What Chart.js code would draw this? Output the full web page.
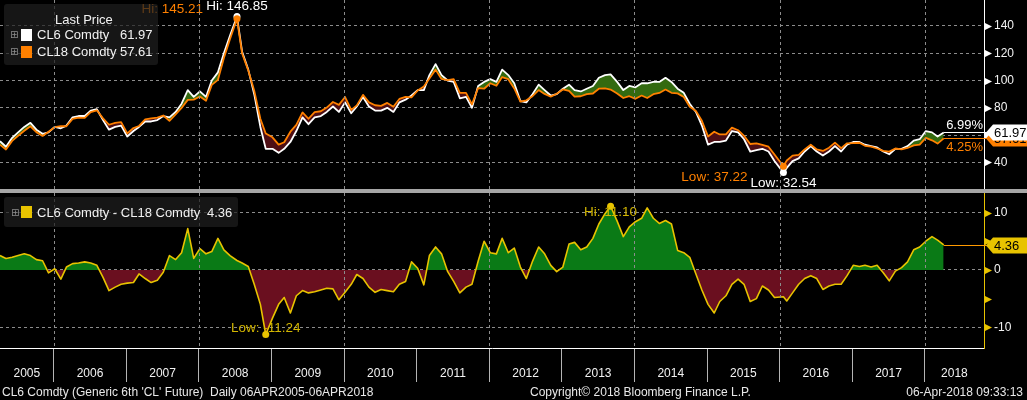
<!DOCTYPE html>
<html lang="en">
<head>
<meta charset="utf-8">
<title>CL6 vs CL18 Comdty</title>
<script src="https://cdn.jsdelivr.net/npm/chart.js@4.4.1/dist/chart.umd.min.js"></script>
<style>
  html, body { margin: 0; padding: 0; background: #000; }
  body { position: relative; width: 1027px; height: 400px; overflow: hidden; font-family: 'Liberation Sans', Arial, sans-serif; color: #f2f2f2; }
  .pane { position: absolute; left: 0; width: 1027px; }
  #topPane { top: 0; height: 190px; }
  #botPane { top: 193px; height: 207px; }
  #sep { position: absolute; left: 0; top: 189px; width: 1027px; height: 4px; background: #a6a6a6; }
  #gridLayer { position: absolute; left: 0; top: 0; width: 1027px; height: 400px; pointer-events: none; z-index: 2; }
  .vgrid { position: absolute; width: 1px; background: repeating-linear-gradient(to bottom, #8c8c8c 0, #8c8c8c 3px, rgba(0,0,0,0) 3px, rgba(0,0,0,0) 6px); }
  .legend { position: absolute; z-index: 3; background: rgba(30, 30, 30, 0.72); border-radius: 3px; font-size: 13px; line-height: 15px; }
  .legend span { position: absolute; white-space: nowrap; }
  .legend .plus { font-family: 'DejaVu Sans', sans-serif; font-size: 10px; line-height: 12px; color: #8c8c8c; }
  .legend .sw { width: 11px; height: 12px; }
  .foot { position: absolute; top: 384px; font-size: 12px; line-height: 16px; white-space: nowrap; color: #e8e8e8; }
</style>
</head>
<body>
<div class="pane" id="topPane"><canvas id="topChart"></canvas></div>
<div id="sep"></div>
<div class="pane" id="botPane"><canvas id="spreadChart"></canvas></div>
<div id="gridLayer"></div>

<div class="legend" style="left:4px;top:4px;width:154px;height:61px;">
  <span style="left:51px;top:8px;">Last Price</span>
  <span class="plus" style="left:6px;top:25px;">&#8862;</span>
  <span class="sw" style="left:17px;top:25px;background:#ffffff;"></span>
  <span style="left:33px;top:23px;">CL6 Comdty</span>
  <span id="legCl6" style="left:116px;top:23px;"></span>
  <span class="plus" style="left:6px;top:42px;">&#8862;</span>
  <span class="sw" style="left:17px;top:42px;background:#ff8000;"></span>
  <span style="left:33px;top:40px;">CL18 Comdty</span>
  <span id="legCl18" style="left:116px;top:40px;"></span>
</div>

<div class="legend" style="left:4px;top:197px;width:234px;height:30px;">
  <span class="plus" style="left:7px;top:10px;">&#8862;</span>
  <span class="sw" style="left:17px;top:9px;background:#e8c300;"></span>
  <span style="left:33px;top:8px;">CL6 Comdty - CL18 Comdty</span>
  <span id="legSpread" style="left:203px;top:8px;"></span>
</div>

<div class="foot" style="left:2px;">CL6 Comdty (Generic 6th 'CL' Future)&nbsp;&nbsp;Daily 06APR2005-06APR2018</div>
<div class="foot" style="left:530px;">Copyright&copy; 2018 Bloomberg Finance L.P.</div>
<div class="foot" style="right:4px;">06-Apr-2018 09:33:13</div>

<script>
// observation dates (roughly monthly, a few moved onto the highs / lows)
const dates = [
  '2005-04-06', '2005-05-06', '2005-06-06', '2005-07-06', '2005-08-06', '2005-09-06', '2005-10-06', '2005-11-06', '2005-12-06',
  '2006-01-06', '2006-02-06', '2006-03-06', '2006-04-06', '2006-05-06', '2006-06-06', '2006-07-06', '2006-08-06', '2006-09-06', '2006-10-06', '2006-11-06', '2006-12-06',
  '2007-01-06', '2007-02-06', '2007-03-06', '2007-04-06', '2007-05-06', '2007-06-06', '2007-07-06', '2007-08-06', '2007-09-06', '2007-10-06', '2007-11-06', '2007-12-06',
  '2008-01-06', '2008-02-06', '2008-03-06', '2008-04-06', '2008-05-06', '2008-06-06', '2008-07-11', '2008-08-06', '2008-09-06', '2008-10-06', '2008-11-06', '2008-12-03',
  '2009-01-06', '2009-02-06', '2009-03-06', '2009-04-06', '2009-05-06', '2009-06-06', '2009-07-06', '2009-08-06', '2009-09-06', '2009-10-06', '2009-11-06', '2009-12-06',
  '2010-01-06', '2010-02-06', '2010-03-06', '2010-04-06', '2010-05-06', '2010-06-06', '2010-07-06', '2010-08-06', '2010-09-06', '2010-10-06', '2010-11-06', '2010-12-06',
  '2011-01-06', '2011-02-06', '2011-03-06', '2011-04-06', '2011-05-06', '2011-06-06', '2011-07-06', '2011-08-06', '2011-09-06', '2011-10-06', '2011-11-06', '2011-12-06',
  '2012-01-06', '2012-02-06', '2012-03-06', '2012-04-06', '2012-05-06', '2012-06-06', '2012-07-06', '2012-08-06', '2012-09-06', '2012-10-06', '2012-11-06', '2012-12-06',
  '2013-01-06', '2013-02-06', '2013-03-06', '2013-04-06', '2013-05-06', '2013-06-06', '2013-07-06', '2013-08-06', '2013-09-03', '2013-10-06', '2013-11-06', '2013-12-06',
  '2014-01-06', '2014-02-06', '2014-03-06', '2014-04-06', '2014-05-06', '2014-06-06', '2014-07-06', '2014-08-06', '2014-09-06', '2014-10-06', '2014-11-06', '2014-12-06',
  '2015-01-06', '2015-02-06', '2015-03-06', '2015-04-06', '2015-05-06', '2015-06-06', '2015-07-06', '2015-08-06', '2015-09-06', '2015-10-06', '2015-11-06', '2015-12-06',
  '2016-01-20', '2016-02-06', '2016-03-06', '2016-04-06', '2016-05-06', '2016-06-06', '2016-07-06', '2016-08-06', '2016-09-06', '2016-10-06', '2016-11-06', '2016-12-06',
  '2017-01-06', '2017-02-06', '2017-03-06', '2017-04-06', '2017-05-06', '2017-06-06', '2017-07-06', '2017-08-06', '2017-09-06', '2017-10-06', '2017-11-06', '2017-12-06',
  '2018-01-06', '2018-02-06', '2018-03-06', '2018-04-06'
];

const cl6 = [
  55.5, 51.5, 58.0, 62.0, 66.0, 69.0, 64.0, 61.0, 62.0,
  66.0, 65.0, 67.0, 73.0, 74.0, 74.0, 78.0, 79.0, 71.0, 64.0, 66.0, 67.0,
  59.0, 63.0, 66.0, 70.0, 70.0, 71.0, 74.0, 73.0, 77.0, 83.0, 93.0, 88.0,
  92.0, 88.0, 100.0, 106.0, 120.0, 133.0, 146.85, 121.0, 108.0, 90.0, 66.0, 50.0,
  50.0, 47.0, 50.0, 55.0, 63.0, 73.0, 68.0, 73.0, 74.0, 77.0, 81.0, 77.0,
  84.0, 76.0, 81.0, 88.0, 81.0, 78.0, 78.0, 80.0, 77.0, 84.0, 86.0, 89.0,
  93.0, 93.0, 104.0, 112.0, 104.0, 100.0, 99.0, 87.0, 88.0, 80.0, 96.0, 99.0,
  101.0, 99.0, 108.0, 104.0, 98.0, 85.0, 84.0, 90.0, 97.0, 93.0, 89.0, 90.0,
  94.0, 97.0, 93.0, 92.0, 94.0, 96.0, 102.0, 104.0, 104.5, 99.0, 93.0, 96.0,
  95.0, 98.0, 98.0, 99.0, 99.0, 102.0, 99.0, 94.0, 91.0, 83.0, 77.0, 67.0,
  53.0, 55.0, 55.0, 56.0, 63.0, 62.0, 57.0, 48.0, 49.0, 50.0, 48.0, 41.0,
  32.54, 36.0, 41.0, 43.0, 48.0, 52.0, 48.0, 45.0, 48.0, 52.0, 48.0, 53.0,
  55.0, 55.0, 53.0, 52.0, 51.0, 48.0, 46.0, 50.0, 50.0, 52.0, 56.0, 57.0,
  63.0, 62.0, 59.0, 61.97
];

const cl18 = [
  53.0, 49.5, 55.8, 59.5, 63.2, 66.5, 62.2, 59.4, 62.5,
  65.8, 66.6, 66.5, 71.9, 72.8, 72.6, 76.8, 78.2, 72.3, 67.6, 69.0, 69.5,
  61.3, 65.2, 66.7, 71.5, 72.2, 72.8, 74.4, 70.5, 75.2, 80.0, 85.8, 86.0,
  88.3, 85.2, 96.8, 100.5, 116.5, 130.5, 145.21, 119.8, 107.4, 92.5, 72.0, 61.24,
  58.4, 53.0, 54.8, 62.5, 67.5, 76.6, 72.0, 76.8, 77.5, 80.2, 84.3, 82.2,
  87.9, 78.5, 81.8, 89.5, 84.0, 81.9, 81.4, 83.6, 80.8, 86.5, 88.0, 87.6,
  92.7, 95.6, 101.5, 108.0, 101.2, 100.3, 101.0, 91.0, 91.0, 82.5, 94.5, 94.0,
  98.0, 96.2, 102.5, 101.0, 94.2, 84.5, 85.5, 88.5, 93.0, 90.2, 88.2, 90.3,
  93.5, 92.5, 88.2, 88.5, 90.0, 90.5, 94.0, 94.2, 93.4, 90.5, 87.2, 88.5,
  86.6, 89.0, 87.2, 90.0, 90.9, 93.4, 91.0, 90.6, 88.0, 80.8, 77.7, 70.5,
  59.0, 62.5, 60.5, 60.5, 65.5, 63.6, 59.5, 53.5, 54.0, 52.8, 51.5, 45.8,
  37.22, 41.4, 45.0, 45.5, 49.5, 53.0, 49.5, 48.4, 50.8, 54.5, 50.5, 54.0,
  54.2, 54.4, 52.2, 51.5, 50.2, 48.5, 47.9, 50.2, 49.6, 50.6, 52.5, 53.0,
  58.0, 56.2, 53.8, 57.61
];

const spread = [
  2.5, 2.0, 2.2, 2.5, 2.8, 2.5, 1.8, 1.6, -0.5,
  0.2, -1.6, 0.5, 1.1, 1.2, 1.4, 1.2, 0.8, -1.3, -3.6, -3.0, -2.5,
  -2.3, -2.2, -0.7, -1.5, -2.2, -1.8, -0.4, 2.5, 1.8, 3.0, 7.2, 2.0,
  3.7, 2.8, 3.2, 5.5, 3.5, 2.5, 1.64, 1.2, 0.6, -2.5, -6.0, -11.24,
  -8.4, -6.0, -4.8, -7.5, -4.5, -3.6, -4.0, -3.8, -3.5, -3.2, -3.3, -5.2,
  -3.9, -2.5, -0.8, -1.5, -3.0, -3.9, -3.4, -3.6, -3.8, -2.5, -2.0, 1.4,
  0.3, -2.6, 2.5, 4.0, 2.8, -0.3, -2.0, -4.0, -3.0, -2.5, 1.5, 5.0,
  3.0, 2.8, 5.5, 3.0, 3.8, 0.5, -1.5, 1.5, 4.0, 2.8, 0.8, -0.3,
  0.5, 4.5, 4.8, 3.5, 4.0, 5.5, 8.0, 9.8, 11.10, 8.5, 5.8, 7.5,
  8.4, 9.0, 10.8, 9.0, 8.1, 8.6, 8.0, 3.4, 3.0, 2.2, -0.7, -3.5,
  -6.0, -7.5, -5.5, -4.5, -2.5, -1.6, -2.5, -5.5, -5.0, -2.8, -3.5, -4.8,
  -4.68, -5.4, -4.0, -2.5, -1.5, -1.0, -1.5, -3.4, -2.8, -2.5, -2.5, -1.0,
  0.8, 0.6, 0.8, 0.5, 0.8, -0.5, -1.9, -0.2, 0.4, 1.4, 3.5, 4.0,
  5.0, 5.8, 5.2, 4.36
];

const yearTicks = [2006, 2007, 2008, 2009, 2010, 2011, 2012, 2013, 2014, 2015, 2016, 2017, 2018];
const gridYears = [2006, 2008, 2010, 2012, 2014, 2016, 2018];
const yearLabels = ['2005', '2006', '2007', '2008', '2009', '2010', '2011', '2012', '2013', '2014', '2015', '2016', '2017', '2018'];
const priceTicks = [40, 60, 80, 100, 120, 140];
const spreadTicks = [-10, -5, 0, 5, 10];
const changeLabels = ['6.99%', '4.25%'];

const FONT = "'Liberation Sans', Arial, sans-serif";
const ORANGE = '#ff8000';
const YELLOW = '#e8c300';
const GRID = '#8c8c8c';

function toYear(s) {
  const [y, m, d] = s.split('-').map(Number);
  const start = Date.UTC(y, 0, 1), end = Date.UTC(y + 1, 0, 1);
  return y + (Date.UTC(y, m - 1, d) - start) / (end - start);
}

const xs = dates.map(toYear);
const X_MIN = xs[0];
const X_MAX = 2018.815;
const last = dates.length - 1;
const toPoints = arr => arr.map((v, i) => ({ x: xs[i], y: v }));
const markAt = idx => c => (idx.includes(c.dataIndex) ? 3.5 : 0);

const hi6 = cl6.indexOf(Math.max(...cl6)), lo6 = cl6.indexOf(Math.min(...cl6));
const hi18 = cl18.indexOf(Math.max(...cl18)), lo18 = cl18.indexOf(Math.min(...cl18));
const hiS = spread.indexOf(Math.max(...spread)), loS = spread.indexOf(Math.min(...spread));

document.getElementById('legCl6').textContent = cl6[last].toFixed(2);
document.getElementById('legCl18').textContent = cl18[last].toFixed(2);
document.getElementById('legSpread').textContent = spread[last].toFixed(2);

// dashed vertical lines every second year: on the canvas, and as thin divs over it
const yearGrid = {
  id: 'yearGrid',
  afterDraw(chart, args, opts) {
    const s = chart.scales.x, a = chart.chartArea, c = chart.ctx;
    if (!s || !a) return;
    c.save();
    c.strokeStyle = GRID;
    c.lineWidth = 1;
    c.setLineDash([3, 3]);
    gridYears.forEach(v => {
      const px = Math.round(s.getPixelForValue(v)) + 0.5;
      c.beginPath();
      c.moveTo(px, a.top);
      c.lineTo(px, a.bottom);
      c.stroke();
    });
    c.restore();
  },
  afterRender(chart, args, opts) {
    const s = chart.scales.x, a = chart.chartArea;
    if (!s || !a) return;
    const layer = document.getElementById('gridLayer');
    layer.querySelectorAll('.' + opts.key).forEach(el => el.remove());
    gridYears.forEach(v => {
      const d = document.createElement('div');
      d.className = 'vgrid ' + opts.key;
      d.style.left = Math.round(s.getPixelForValue(v)) + 'px';
      d.style.top = (opts.offset + a.top) + 'px';
      d.style.height = (a.bottom - a.top) + 'px';
      layer.appendChild(d);
    });
  }
};

// small arrow heads on the right axis
const axisArrows = {
  id: 'axisArrows',
  afterDraw(chart, args, opts) {
    const s = chart.scales.y, c = chart.ctx;
    c.save();
    c.fillStyle = opts.color;
    s.ticks.forEach(t => {
      const py = Math.round(s.getPixelForValue(t.value)) + 0.5;
      c.beginPath();
      c.moveTo(s.left + 1, py - 3.5);
      c.lineTo(s.left + 8, py);
      c.lineTo(s.left + 1, py + 3.5);
      c.closePath();
      c.fill();
    });
    c.restore();
  }
};

// Hi / Low texts next to the marked points
const pointNotes = {
  id: 'pointNotes',
  afterDatasetsDraw(chart, args, opts) {
    const c = chart.ctx;
    c.save();
    c.font = '13.5px ' + FONT;
    c.textBaseline = 'middle';
    opts.notes.forEach(n => {
      const el = chart.getDatasetMeta(n.ds).data[n.idx];
      c.fillStyle = n.color;
      c.textAlign = n.align;
      c.fillText(n.text, el.x + n.dx, el.y + n.dy);
    });
    c.restore();
  }
};

// last value line + tag on the axis
const lastValues = {
  id: 'lastValues',
  afterDraw(chart, args, opts) {
    const c = chart.ctx, sx = chart.scales.x, sy = chart.scales.y;
    const right = chart.width;
    c.save();
    opts.items.forEach(it => {
      const px = sx.getPixelForValue(it.x);
      const py = Math.round(sy.getPixelForValue(it.y)) + 0.5;
      c.strokeStyle = it.line;
      c.lineWidth = 1;
      c.beginPath();
      c.moveTo(px, py);
      c.lineTo(sy.left + 3, py);
      c.stroke();
      c.beginPath();
      c.moveTo(sy.left + 2, py);
      c.lineTo(sy.left + 9, py - 8);
      c.lineTo(right, py - 8);
      c.lineTo(right, py + 8);
      c.lineTo(sy.left + 9, py + 8);
      c.closePath();
      c.fillStyle = it.bg;
      c.fill();
      c.fillStyle = '#000';
      c.font = '13px ' + FONT;
      c.textAlign = 'left';
      c.textBaseline = 'middle';
      c.fillText(it.text, sy.left + 10, py + 1);
      if (it.note) {
        c.fillStyle = it.noteColor;
        c.textAlign = 'right';
        c.fillText(it.note, sy.left - 1, py + it.noteDy);
      }
    });
    c.restore();
  }
};

// year names centred in each (visible) year
const yearNames = {
  id: 'yearNames',
  afterDraw(chart) {
    const s = chart.scales.x, c = chart.ctx;
    c.save();
    c.fillStyle = '#f2f2f2';
    c.font = '12px ' + FONT;
    c.textAlign = 'center';
    c.textBaseline = 'middle';
    yearLabels.forEach(lbl => {
      const a = Math.max(s.min, +lbl), b = Math.min(s.max, +lbl + 1);
      const cx = (s.getPixelForValue(a) + s.getPixelForValue(b)) / 2;
      c.fillText(lbl, cx, s.top + 26);
    });
    c.restore();
  }
};

const baseOptions = {
  responsive: true,
  maintainAspectRatio: false,
  animation: false,
  events: [],
  layout: { padding: 0 },
  elements: { line: { tension: 0, borderJoinStyle: 'round' } }
};

new Chart(document.getElementById('topChart'), {
  type: 'line',
  data: {
    datasets: [
      {
        label: 'CL18 Comdty',
        data: toPoints(cl18),
        borderColor: ORANGE,
        backgroundColor: ORANGE,
        borderWidth: 1.8,
        pointRadius: markAt([hi18, lo18]),
        pointBackgroundColor: ORANGE,
        pointBorderWidth: 0,
        fill: false,
        order: 0
      },
      {
        label: 'CL6 Comdty',
        data: toPoints(cl6),
        borderColor: '#ffffff',
        backgroundColor: '#ffffff',
        borderWidth: 1.8,
        pointRadius: markAt([hi6, lo6]),
        pointBackgroundColor: '#ffffff',
        pointBorderWidth: 0,
        fill: { target: 0, above: '#336a10', below: '#4e0e14' },
        order: 1
      }
    ]
  },
  options: {
    ...baseOptions,
    scales: {
      x: {
        type: 'linear',
        min: X_MIN,
        max: X_MAX,
        afterBuildTicks: s => { s.ticks = yearTicks.map(v => ({ value: v })); },
        ticks: { display: false },
        grid: { drawOnChartArea: false, drawTicks: false },
        border: { display: false },
        afterFit: s => { s.height = 0; }
      },
      y: {
        type: 'linear',
        position: 'right',
        min: 19.8,
        max: 159,
        afterBuildTicks: s => { s.ticks = priceTicks.map(v => ({ value: v })); },
        ticks: { color: '#f2f2f2', font: { family: FONT, size: 12 }, padding: 3, callback: v => String(v) },
        grid: { color: GRID, tickLength: 7, tickColor: 'rgba(0,0,0,0)' },
        border: { display: true, color: '#ffffff', width: 1, dash: [3, 3] },
        afterFit: s => { s.width = 43; s.paddingTop = 0; s.paddingBottom = 0; }
      }
    },
    plugins: {
      legend: { display: false },
      tooltip: { enabled: false },
      yearGrid: { key: 'gTop', offset: 0 },
      axisArrows: { color: '#ffffff' },
      pointNotes: {
        notes: [
          { ds: 0, idx: hi18, text: 'Hi: ' + cl18[hi18].toFixed(2), color: ORANGE, align: 'right', dx: -34, dy: -10 },
          { ds: 1, idx: hi6, text: 'Hi: ' + cl6[hi6].toFixed(2), color: '#ffffff', align: 'center', dx: 0, dy: -10 },
          { ds: 0, idx: lo18, text: 'Low: ' + cl18[lo18].toFixed(2), color: ORANGE, align: 'right', dx: -36, dy: 11 },
          { ds: 1, idx: lo6, text: 'Low: ' + cl6[lo6].toFixed(2), color: '#ffffff', align: 'center', dx: 0, dy: 11 }
        ]
      },
      lastValues: {
        items: [
          { x: xs[last], y: cl18[last], text: cl18[last].toFixed(2), bg: ORANGE, line: ORANGE, note: changeLabels[1], noteColor: ORANGE, noteDy: 9 },
          { x: xs[last], y: cl6[last], text: cl6[last].toFixed(2), bg: '#ffffff', line: '#ffffff', note: changeLabels[0], noteColor: '#ffffff', noteDy: -7 }
        ]
      }
    }
  },
  plugins: [yearGrid, axisArrows, pointNotes, lastValues]
});

new Chart(document.getElementById('spreadChart'), {
  type: 'line',
  data: {
    datasets: [
      {
        label: 'CL6 Comdty - CL18 Comdty',
        data: toPoints(spread),
        borderColor: YELLOW,
        backgroundColor: YELLOW,
        borderWidth: 1.6,
        pointRadius: markAt([hiS, loS]),
        pointBackgroundColor: YELLOW,
        pointBorderWidth: 0,
        fill: { target: { value: 0 }, above: '#0a7a16', below: '#6a0f1f' }
      }
    ]
  },
  options: {
    ...baseOptions,
    scales: {
      x: {
        type: 'linear',
        min: X_MIN,
        max: X_MAX,
        afterBuildTicks: s => { s.ticks = yearTicks.map(v => ({ value: v })); },
        ticks: { display: false },
        grid: { drawOnChartArea: false, drawTicks: true, tickLength: 34, tickColor: '#b4b4b4', tickWidth: 1 },
        border: { display: true, color: '#ffffff', width: 1 },
        afterFit: s => { s.height = 52; }
      },
      y: {
        type: 'linear',
        position: 'right',
        min: -13.6,
        max: 13.4,
        afterBuildTicks: s => { s.ticks = spreadTicks.map(v => ({ value: v })); },
        ticks: { color: '#f2f2f2', font: { family: FONT, size: 12 }, padding: 3, callback: v => (v % 10 === 0 ? String(v) : '') },
        grid: { color: c => (c.tick && c.tick.value % 10 === 0 ? GRID : 'rgba(0,0,0,0)'), tickLength: 7, tickColor: 'rgba(0,0,0,0)' },
        border: { display: true, color: YELLOW, width: 1, dash: [3, 3] },
        afterFit: s => { s.width = 43; s.paddingTop = 0; s.paddingBottom = 0; }
      }
    },
    plugins: {
      legend: { display: false },
      tooltip: { enabled: false },
      yearGrid: { key: 'gBot', offset: 193 },
      axisArrows: { color: YELLOW },
      pointNotes: {
        notes: [
          { ds: 0, idx: hiS, text: 'Hi: ' + spread[hiS].toFixed(2), color: '#d2b500', align: 'center', dx: 0, dy: 6 },
          { ds: 0, idx: loS, text: 'Low: ' + spread[loS].toFixed(2), color: '#d2b500', align: 'center', dx: 0, dy: -6 }
        ]
      },
      lastValues: {
        items: [
          { x: xs[last], y: spread[last], text: spread[last].toFixed(2), bg: YELLOW, line: '#ff9a00' }
        ]
      }
    }
  },
  plugins: [yearGrid, axisArrows, pointNotes, lastValues, yearNames]
});
</script>
</body>
</html>
